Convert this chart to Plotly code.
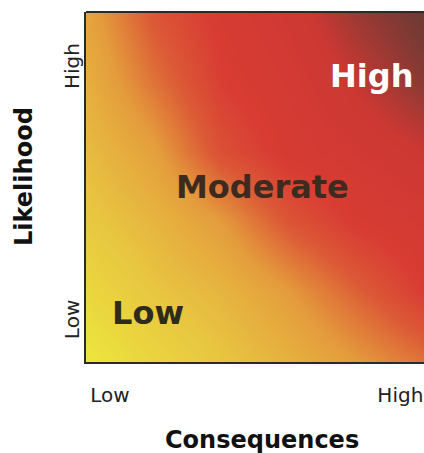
import plotly.graph_objects as go

# ---- data ----
consequence_grid = [0.0, 0.2, 0.4, 0.6, 0.8, 1.0]   # Low -> High
likelihood_grid = [0.0, 0.2, 0.4, 0.6, 0.8, 1.0]    # Low -> High
# risk level (0 = yellow, 1 = dark red), rows = likelihood (bottom -> top)
risk_row_0 = [0.00, 0.12, 0.22, 0.32, 0.42, 0.52]
risk_row_1 = [0.10, 0.22, 0.30, 0.42, 0.56, 0.70]
risk_row_2 = [0.20, 0.30, 0.42, 0.60, 0.71, 0.76]
risk_row_3 = [0.27, 0.40, 0.62, 0.73, 0.78, 0.84]
risk_row_4 = [0.33, 0.52, 0.69, 0.76, 0.85, 0.95]
risk_row_5 = [0.38, 0.60, 0.72, 0.80, 0.92, 1.00]
risk_grid = [risk_row_0, risk_row_1, risk_row_2, risk_row_3, risk_row_4, risk_row_5]

tick_labels = ["Low", "High"]
zone_labels = ["Low", "Moderate", "High"]
x_title = "Consequences"
y_title = "Likelihood"

colorscale = [
    [0.00, "#ece63c"],
    [0.22, "#e8c640"],
    [0.42, "#e49c3c"],
    [0.58, "#dc5a36"],
    [0.70, "#d83c33"],
    [0.84, "#cc3833"],
    [1.00, "#6a3a34"],
]

fig = go.Figure(go.Heatmap(
    x=consequence_grid, y=likelihood_grid, z=risk_grid,
    colorscale=colorscale, zmin=0, zmax=1, zsmooth="best",
    showscale=False, hoverinfo="skip",
))

tick_font = dict(family="DejaVu Sans", size=20, color="#222222")

fig.update_layout(
    width=424, height=453,
    margin=dict(l=86, r=0, t=12, b=91),
    paper_bgcolor="white", plot_bgcolor="white",
    xaxis=dict(range=[0, 1], showgrid=False, zeroline=False, showline=True,
               linecolor="#2a2a2a", linewidth=2, ticks="",
               tickvals=[0.071, 0.93], ticktext=tick_labels,
               tickfont=tick_font, ticklabelstandoff=14, fixedrange=True),
    yaxis=dict(range=[0, 1], showgrid=False, zeroline=False, showline=True,
               linecolor="#2a2a2a", linewidth=2, ticks="",
               tickvals=[0.12, 0.846], showticklabels=False, fixedrange=True),
    shapes=[dict(type="line", xref="paper", yref="paper", x0=0, x1=1, y0=1, y1=1,
                 line=dict(color="#2a2a2a", width=2))],
    showlegend=False,
)

# y tick labels (rotated), placed at the tick positions
for label, yv in zip(tick_labels, [0.12, 0.846]):
    fig.add_annotation(x=-0.041, y=yv, xref="paper", yref="y", text=label,
                       showarrow=False, xanchor="center", yanchor="middle",
                       textangle=-90, font=tick_font)

zone_pos = [(0.183, 0.14, "#2e2a1c"), (0.521, 0.50, "#3d2b1f"), (0.846, 0.817, "#ffffff")]
for label, (px, py, col) in zip(zone_labels, zone_pos):
    fig.add_annotation(x=px, y=py, xref="paper", yref="paper", text=label,
                       showarrow=False, xanchor="center", yanchor="middle",
                       font=dict(family="DejaVu Sans", size=32, color=col, weight="bold"))

fig.add_annotation(x=0.521, y=-0.223, xref="paper", yref="paper", text=x_title,
                   showarrow=False, xanchor="center", yanchor="middle",
                   font=dict(family="DejaVu Sans", size=24, color="#111111", weight="bold"))
fig.add_annotation(x=-0.183, y=0.529, xref="paper", yref="paper", text=y_title,
                   showarrow=False, xanchor="center", yanchor="middle", textangle=-90,
                   font=dict(family="DejaVu Sans", size=24, color="#111111", weight="bold"))

fig.write_html(
    "out.html",
    config={"displayModeBar": False, "staticPlot": True},
    post_script="document.body.style.margin='0';document.body.style.overflow='hidden';",
)
